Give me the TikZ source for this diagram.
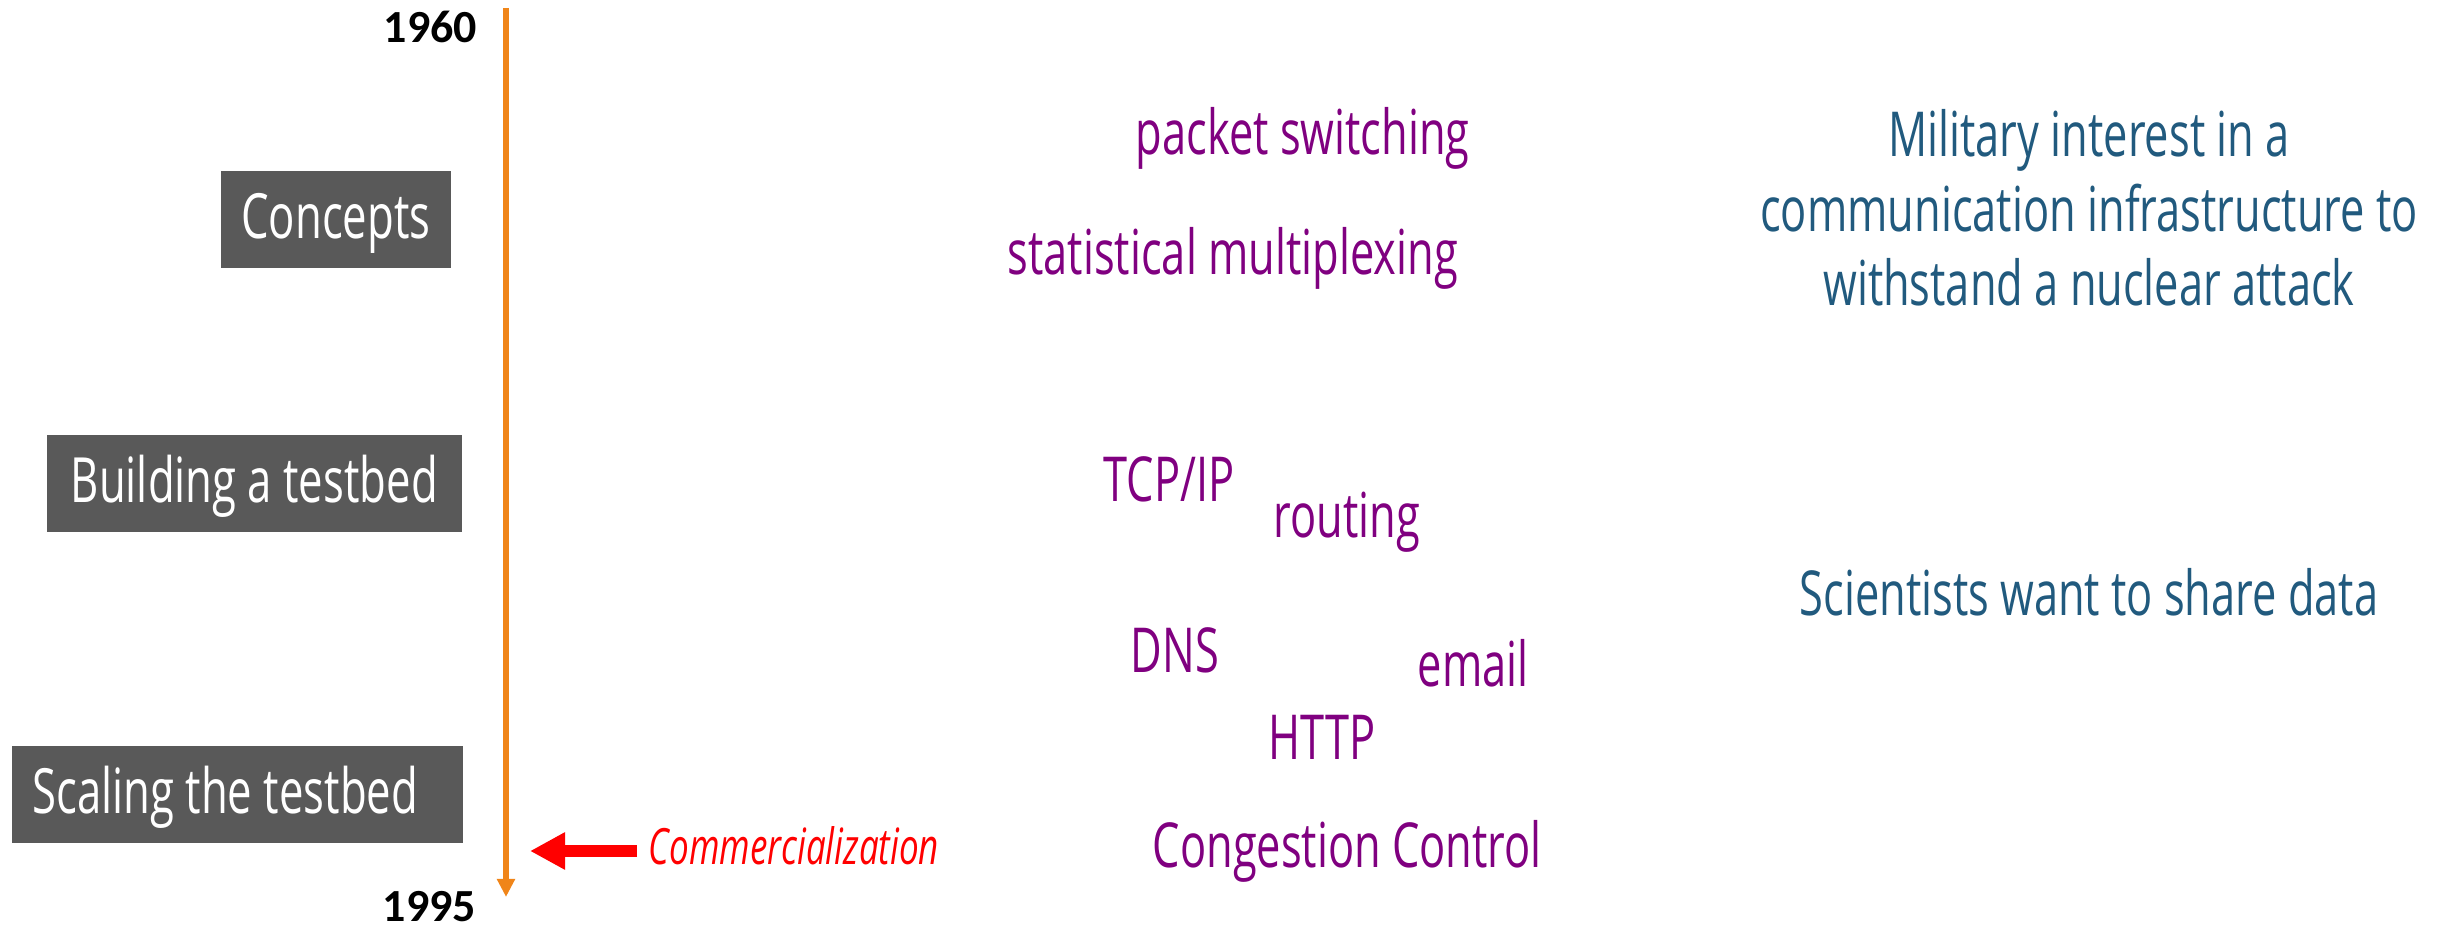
\documentclass[tikz,border=0pt]{standalone}
\usepackage{fontspec}
\usepackage{xcolor}
\usetikzlibrary{arrows.meta}
\setmainfont{Open Sans}
\newfontfamily\condfont[FakeStretch=0.7]{Open Sans}
\newfontfamily\yearfont{Carlito}
\definecolor{boxgray}{HTML}{595959}
\definecolor{topicpurple}{HTML}{800080}
\definecolor{motiveblue}{HTML}{215A7E}
\definecolor{lineorange}{HTML}{F08519}

\begin{document}
\begin{tikzpicture}[x={(0.25pt,0)}, y={(0,-0.25pt)},
  phase/.style={anchor=north west, fill=boxgray, text=white, inner sep=0pt, minimum height=24.25pt, text height=11pt, text depth=1.25pt, font=\condfont\fontsize{15.6}{18}\selectfont},
  topic/.style={anchor=base west, inner sep=0pt, text=topicpurple, font=\condfont\fontsize{15.5}{18}\selectfont},
  motive/.style={anchor=base, inner sep=0pt, text=motiveblue, align=center, font=\condfont\fontsize{15.5}{18.7}\selectfont},
  year/.style={anchor=east, inner sep=0pt, font=\yearfont\bfseries\fontsize{11.5}{13}\selectfont}]
\useasboundingbox (0,0) rectangle (2443,928);
\node[year] (ystart) at (478,27) {1960};
\node[year] (yend) at (477,907) {1995};
\coordinate (tltop) at (506,8);
\coordinate (tlend) at (506,897);
\draw[lineorange, line width=1.6pt, -{Triangle[length=4.5pt, width=4.3pt]}] (tltop) -- (tlend);

\node[phase, minimum width=57.5pt] (concepts) at (220,170) {Concepts};
\node[phase, minimum width=103.75pt] (building) at (46,434) {Building a testbed};
\node[phase, minimum width=112.75pt] (scaling) at (11,745) {Scaling the testbed\kern6pt};

\node[anchor=base west, inner xsep=2.75pt, inner ysep=0pt, text=red, font=\condfont\itshape\fontsize{12.5}{15}\selectfont] (comm) at (637,865) {Commercialization};
\coordinate (commtip) at (530,851);
\draw[red, line width=3pt, -{Triangle[length=8.75pt, width=8.75pt]}] (comm.west |- commtip) -- (commtip);

\node[topic] (packet) at (1135,155) {packet switching};
\node[topic] (statmux) at (1007,275) {statistical multiplexing};
\node[topic] (tcpip) at (1103,502) {TCP/IP};
\node[topic] (routing) at (1273,538) {routing};
\node[topic] (dns) at (1130,673) {DNS};
\node[topic] (email) at (1417,687) {email};
\node[topic] (http) at (1268,760) {HTTP};
\node[topic] (congestion) at (1152,868) {Congestion Control};

\node[motive] (military) at (2089,306) {Military interest in a\\communication infrastructure to\\withstand a nuclear attack};
\node[motive] (scientists) at (2089,616) {Scientists want to share data};
\end{tikzpicture}
\end{document}
